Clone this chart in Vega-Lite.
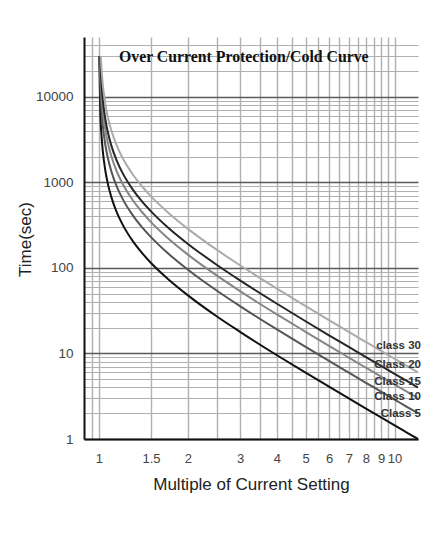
{
  "$schema": "https://vega.github.io/schema/vega-lite/v6.json",
  "autosize": {"type": "none"},
  "width": 334,
  "height": 402,
  "padding": {"left": 84, "top": 37, "right": 8, "bottom": 117},
  "background": "white",
  "config": {"view": {"stroke": null}, "font": "Liberation Sans"},
  "datasets": {
    "curves": [
      {"c":"Class 5","I":1.00238,"t":30000},{"c":"Class 5","I":1.01,"t":7114},{"c":"Class 5","I":1.02,"t":3540},{"c":"Class 5","I":1.03,"t":2348},{"c":"Class 5","I":1.05,"t":1395},{"c":"Class 5","I":1.07,"t":987},{"c":"Class 5","I":1.1,"t":681},{"c":"Class 5","I":1.15,"t":443},{"c":"Class 5","I":1.2,"t":325},{"c":"Class 5","I":1.3,"t":207},{"c":"Class 5","I":1.4,"t":149},{"c":"Class 5","I":1.5,"t":114},{"c":"Class 5","I":1.7,"t":75.7},{"c":"Class 5","I":2,"t":47.7},{"c":"Class 5","I":2.5,"t":27.2},{"c":"Class 5","I":3,"t":17.9},{"c":"Class 5","I":4,"t":9.53},{"c":"Class 5","I":5,"t":5.96},{"c":"Class 5","I":6,"t":4.09},{"c":"Class 5","I":7,"t":2.98},{"c":"Class 5","I":8,"t":2.27},{"c":"Class 5","I":9,"t":1.79},{"c":"Class 5","I":10,"t":1.44},{"c":"Class 5","I":11,"t":1.19},{"c":"Class 5","I":12,"t":1.0},
      {"c":"Class 10","I":1.00476,"t":30000},{"c":"Class 10","I":1.01,"t":14229},{"c":"Class 10","I":1.02,"t":7079},{"c":"Class 10","I":1.03,"t":4696},{"c":"Class 10","I":1.05,"t":2790},{"c":"Class 10","I":1.07,"t":1974},{"c":"Class 10","I":1.1,"t":1362},{"c":"Class 10","I":1.15,"t":887},{"c":"Class 10","I":1.2,"t":650},{"c":"Class 10","I":1.3,"t":414},{"c":"Class 10","I":1.4,"t":298},{"c":"Class 10","I":1.5,"t":229},{"c":"Class 10","I":1.7,"t":151},{"c":"Class 10","I":2,"t":95.3},{"c":"Class 10","I":2.5,"t":54.5},{"c":"Class 10","I":3,"t":35.8},{"c":"Class 10","I":4,"t":19.07},{"c":"Class 10","I":5,"t":11.92},{"c":"Class 10","I":6,"t":8.17},{"c":"Class 10","I":7,"t":5.96},{"c":"Class 10","I":8,"t":4.54},{"c":"Class 10","I":9,"t":3.58},{"c":"Class 10","I":10,"t":2.89},{"c":"Class 10","I":11,"t":2.38},{"c":"Class 10","I":12,"t":2.0},
      {"c":"Class 15","I":1.00713,"t":30000},{"c":"Class 15","I":1.01,"t":21343},{"c":"Class 15","I":1.02,"t":10619},{"c":"Class 15","I":1.03,"t":7044},{"c":"Class 15","I":1.05,"t":4185},{"c":"Class 15","I":1.07,"t":2961},{"c":"Class 15","I":1.1,"t":2043},{"c":"Class 15","I":1.15,"t":1330},{"c":"Class 15","I":1.2,"t":975},{"c":"Class 15","I":1.3,"t":622},{"c":"Class 15","I":1.4,"t":447},{"c":"Class 15","I":1.5,"t":343},{"c":"Class 15","I":1.7,"t":227},{"c":"Class 15","I":2,"t":143},{"c":"Class 15","I":2.5,"t":81.7},{"c":"Class 15","I":3,"t":53.6},{"c":"Class 15","I":4,"t":28.6},{"c":"Class 15","I":5,"t":17.9},{"c":"Class 15","I":6,"t":12.26},{"c":"Class 15","I":7,"t":8.94},{"c":"Class 15","I":8,"t":6.81},{"c":"Class 15","I":9,"t":5.36},{"c":"Class 15","I":10,"t":4.33},{"c":"Class 15","I":11,"t":3.58},{"c":"Class 15","I":12,"t":3.0},
      {"c":"Class 20","I":1.00949,"t":30000},{"c":"Class 20","I":1.02,"t":14158},{"c":"Class 20","I":1.03,"t":9392},{"c":"Class 20","I":1.05,"t":5580},{"c":"Class 20","I":1.07,"t":3948},{"c":"Class 20","I":1.1,"t":2724},{"c":"Class 20","I":1.15,"t":1774},{"c":"Class 20","I":1.2,"t":1300},{"c":"Class 20","I":1.3,"t":829},{"c":"Class 20","I":1.4,"t":596},{"c":"Class 20","I":1.5,"t":458},{"c":"Class 20","I":1.7,"t":303},{"c":"Class 20","I":2,"t":190.7},{"c":"Class 20","I":2.5,"t":109},{"c":"Class 20","I":3,"t":71.5},{"c":"Class 20","I":4,"t":38.1},{"c":"Class 20","I":5,"t":23.8},{"c":"Class 20","I":6,"t":16.3},{"c":"Class 20","I":7,"t":11.9},{"c":"Class 20","I":8,"t":9.08},{"c":"Class 20","I":9,"t":7.15},{"c":"Class 20","I":10,"t":5.78},{"c":"Class 20","I":11,"t":4.77},{"c":"Class 20","I":12,"t":4.0},
      {"c":"Class 30","I":1.0142,"t":30000},{"c":"Class 30","I":1.02,"t":21238},{"c":"Class 30","I":1.03,"t":14089},{"c":"Class 30","I":1.05,"t":8371},{"c":"Class 30","I":1.07,"t":5921},{"c":"Class 30","I":1.1,"t":4086},{"c":"Class 30","I":1.15,"t":2660},{"c":"Class 30","I":1.2,"t":1950},{"c":"Class 30","I":1.3,"t":1243},{"c":"Class 30","I":1.4,"t":894},{"c":"Class 30","I":1.5,"t":686},{"c":"Class 30","I":1.7,"t":454},{"c":"Class 30","I":2,"t":286},{"c":"Class 30","I":2.5,"t":163.4},{"c":"Class 30","I":3,"t":107.3},{"c":"Class 30","I":4,"t":57.2},{"c":"Class 30","I":5,"t":35.8},{"c":"Class 30","I":6,"t":24.5},{"c":"Class 30","I":7,"t":17.9},{"c":"Class 30","I":8,"t":13.6},{"c":"Class 30","I":9,"t":10.7},{"c":"Class 30","I":10,"t":8.67},{"c":"Class 30","I":11,"t":7.15},{"c":"Class 30","I":12,"t":6.0}
    ],
    "labels": [
      {"label":"class 30","I":12,"t":12.2},
      {"label":"Class 20","I":12,"t":7.34},
      {"label":"Class 15","I":12,"t":4.68},
      {"label":"Class 10","I":12,"t":3.12},
      {"label":"Class 5","I":12,"t":1.96}
    ],
    "title": [
      {"label":"Over Current Protection/Cold Curve","I":3.09,"t":29400}
    ]
  },
  "encoding": {
    "x": {
      "field": "I", "type": "quantitative",
      "scale": {"type": "log", "domain": [0.89, 12], "nice": false},
      "axis": {
        "title": "Multiple of Current Setting",
        "values": [0.95,1,1.5,2,2.5,3,3.5,4,4.5,5,5.5,6,6.5,7,7.5,8,8.5,9,9.5,10],
        "format": "~g",
        "labelExpr": "indexof([1,1.5,2,3,4,5,6,7,8,9,10], datum.value) >= 0 ? datum.label : ''",
        "labelOverlap": false, "labelFlush": false,
        "ticks": false, "tickSize": 0, "labelPadding": 13,
        "labelFont": "Liberation Sans", "labelFontSize": 13, "labelColor": "#444",
        "labelBaseline": "top",
        "grid": true, "gridColor": "#b0b0b0", "gridWidth": 1.4,
        "domainColor": "#111", "domainWidth": 2,
        "titleFont": "Liberation Sans", "titleFontSize": 17, "titleFontWeight": "normal", "titleColor": "#222",
        "titleY": 45, "titleBaseline": "middle"
      }
    },
    "y": {
      "field": "t", "type": "quantitative",
      "scale": {"type": "log", "domain": [1, 50000], "nice": false},
      "axis": {
        "title": "Time(sec)",
        "values": [1,2,3,4,5,6,7,8,9,10,20,30,40,50,60,70,80,90,100,200,300,400,500,600,700,800,900,1000,2000,3000,4000,5000,6000,7000,8000,9000,10000,20000,30000,40000],
        "format": "d",
        "labelExpr": "indexof([1,10,100,1000,10000], datum.value) >= 0 ? datum.label : ''",
        "labelOverlap": false, "labelFlush": false,
        "ticks": false, "tickSize": 0, "labelPadding": 11,
        "labelFont": "Liberation Sans", "labelFontSize": 13.5, "labelColor": "#444",
        "grid": true,
        "gridColor": {"condition": {"test": "indexof([1,10,100,1000,10000], datum.value) >= 0", "value": "#5a5a5a"}, "value": "#b0b0b0"},
        "gridWidth": {"condition": {"test": "indexof([1,10,100,1000,10000], datum.value) >= 0", "value": 1.6}, "value": 1.2},
        "domainColor": "#111", "domainWidth": 2,
        "titleFont": "Liberation Sans", "titleFontSize": 17, "titleFontWeight": "normal", "titleColor": "#222",
        "titleX": -59, "titleY": 202, "titleBaseline": "middle", "titleAnchor": "middle"
      }
    }
  },
  "layer": [
    {
      "data": {"name": "curves"},
      "mark": {"type": "line", "interpolate": "monotone", "strokeWidth": 2, "clip": true},
      "encoding": {
        "color": {
          "field": "c", "type": "nominal", "legend": null,
          "scale": {"domain": ["Class 5","Class 10","Class 15","Class 20","Class 30"], "range": ["#111111","#555555","#858585","#262626","#ababab"]}
        },
        "detail": {"field": "c"}
      }
    },
    {
      "data": {"name": "labels"},
      "mark": {"type": "text", "align": "right", "baseline": "middle", "dx": 3, "font": "Liberation Sans", "fontWeight": "bold", "fontSize": 11.5, "color": "#333"},
      "encoding": {"text": {"field": "label"}}
    },
    {
      "data": {"name": "title"},
      "mark": {"type": "text", "align": "center", "baseline": "middle", "font": "Liberation Serif", "fontWeight": "bold", "fontSize": 15.8, "color": "#111"},
      "encoding": {"text": {"field": "label"}}
    }
  ]
}
